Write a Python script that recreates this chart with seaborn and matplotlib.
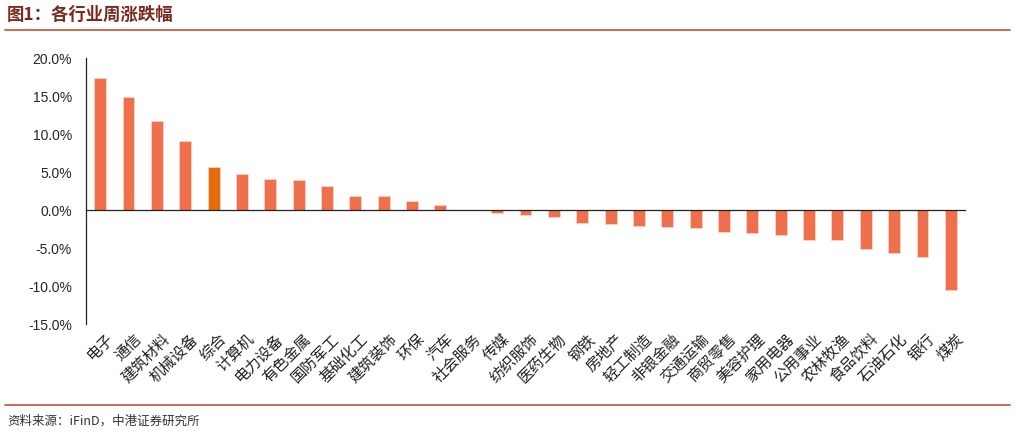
import numpy as np
import pandas as pd
import matplotlib
matplotlib.use("Agg")
import matplotlib.pyplot as plt
import seaborn as sns
from matplotlib.ticker import FuncFormatter, FixedLocator

# data (weekly change by industry, %)
industries = ["电子", "通信", "建筑材料", "机械设备", "综合", "计算机", "电力设备", "有色金属",
              "国防军工", "基础化工", "建筑装饰", "环保", "汽车", "社会服务", "传媒", "纺织服饰",
              "医药生物", "钢铁", "房地产", "轻工制造", "非银金融", "交通运输", "商贸零售", "美容护理",
              "家用电器", "公用事业", "农林牧渔", "食品饮料", "石油石化", "银行", "煤炭"]
changes = [17.4, 14.9, 11.7, 9.1, 5.7, 4.7, 4.1, 4.0,
           3.1, 1.9, 1.9, 1.2, 0.7, 0.05, -0.45, -0.6,
           -0.95, -1.7, -1.8, -2.1, -2.2, -2.35, -2.9, -3.0,
           -3.35, -3.9, -4.0, -5.1, -5.6, -6.2, -10.5]
highlight = "综合"

df = pd.DataFrame({"industry": industries, "change": changes})
df["grp"] = np.where(df["industry"] == highlight, "hl", "base")

sns.set_style("white")
plt.rcParams['font.family'] = ['Liberation Sans', 'Noto Sans CJK SC', 'DejaVu Sans']
cjk = ['Noto Sans CJK SC', 'DejaVu Sans']

fig = plt.figure(figsize=(10.16, 4.34), dpi=100)
ax = fig.add_axes([86 / 1016, 1 - 324 / 434, (965 - 86) / 1016, (324 - 58) / 434])

sns.barplot(data=df, x="industry", y="change", hue="grp",
            palette={"base": "#EE704D", "hl": "#E46C0A"}, dodge=False, saturation=1,
            width=0.42, legend=False, edgecolor="#FAD3C5", linewidth=0.6, ax=ax)

ax.set_ylim(-15, 20)
ax.set_xlim(-0.5, len(industries) - 0.5)
ax.set_yticks(np.arange(-15, 20.1, 5))
ax.yaxis.set_major_formatter(FuncFormatter(lambda v, p: f"{v:.1f}%"))
ax.tick_params(axis="y", labelsize=10, length=4, width=0.8, direction="out", color="#333333", pad=6)
ax.set_xlabel("")
ax.set_ylabel("")

# x axis sits on zero, tick marks at category boundaries
ax.spines["bottom"].set_position(("data", 0))
for s in ["top", "right"]:
    ax.spines[s].set_visible(False)
for s in ["left", "bottom"]:
    ax.spines[s].set_color("#222222")
    ax.spines[s].set_linewidth(0.9)
ax.set_xticks([])
ax.xaxis.set_minor_locator(FixedLocator(np.arange(-0.5, len(industries), 1.0)))
ax.tick_params(axis="x", which="minor", direction="in", length=4, width=0.8, color="#333333")

# category labels below the plot area
for i, name in enumerate(industries):
    ax.text(i + 0.15, -15.9, name, rotation=45, ha="right", va="top",
            rotation_mode="anchor", fontsize=11, color="#222222", family=cjk)

# header / footer
fig.text(7 / 1016, 1 - 15 / 434, "图1：各行业周涨跌幅", fontsize=12.5, fontweight="bold",
         color="#7A2A1D", va="center", ha="left", family=cjk)
fig.add_artist(plt.Line2D([5 / 1016, 1010 / 1016], [1 - 30 / 434] * 2, color="#C8603F", lw=1.3))
fig.add_artist(plt.Line2D([5 / 1016, 1010 / 1016], [1 - 405 / 434] * 2, color="#C8603F", lw=1.3))
fig.text(7 / 1016, 1 - 421 / 434, "资料来源：iFinD，中港证券研究所", fontsize=9, style="italic",
         color="#333333", va="center", ha="left", family=cjk)

fig.savefig("out.png", dpi=100)
